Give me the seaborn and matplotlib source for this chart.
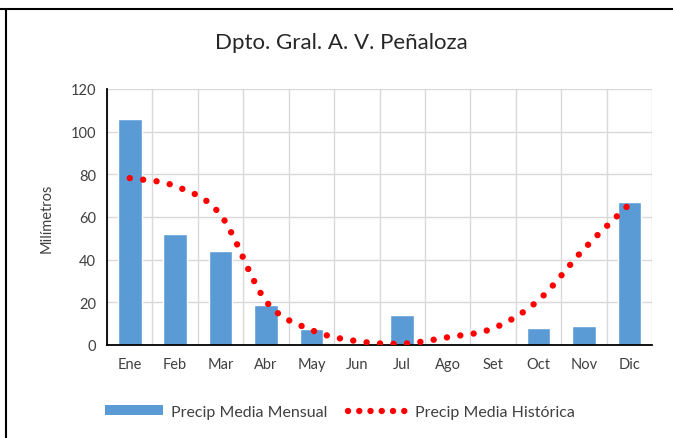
import matplotlib
matplotlib.use("Agg")
import matplotlib.pyplot as plt
import numpy as np
import pandas as pd
import seaborn as sns
from matplotlib.path import Path
from matplotlib.patches import PathPatch, Patch
from matplotlib.lines import Line2D

# Data
months = ["Ene", "Feb", "Mar", "Abr", "May", "Jun",
          "Jul", "Ago", "Set", "Oct", "Nov", "Dic"]
precip_mensual = [106, 52, 44.2, 18.7, 7.5, 0, 14.2, 0, 0, 7.8, 8.8, 67]
precip_historica = [78.2, 74.5, 61, 20.5, 7, 1.8, 0.6, 3.6, 7.8, 21, 45, 66]

label_mensual = "Precip Media Mensual"
label_historica = "Precip Media Histórica"

sns.set_theme(style="white")
plt.rcParams["font.family"] = ["Lato", "DejaVu Sans"]

df = pd.DataFrame({"mes": months, "mm": precip_mensual})

fig = plt.figure(figsize=(6.73, 4.39), dpi=100)
ax = fig.add_axes([0.159, 0.212, 0.81, 0.583])

bar_color = "#5b9bd5"
sns.barplot(data=df, x="mes", y="mm", color=bar_color, width=0.52,
            saturation=1, ax=ax, zorder=2)

# smooth (Excel-like) curve through the historic means
x = np.arange(len(months), dtype=float)
y = np.array(precip_historica, dtype=float)
verts = [(x[0], y[0])]
codes = [Path.MOVETO]
for i in range(len(x) - 1):
    p0 = (x[max(i - 1, 0)], y[max(i - 1, 0)])
    p1 = (x[i], y[i])
    p2 = (x[i + 1], y[i + 1])
    p3 = (x[min(i + 2, len(x) - 1)], y[min(i + 2, len(x) - 1)])
    c1 = (p1[0] + (p2[0] - p0[0]) / 6, p1[1] + (p2[1] - p0[1]) / 6)
    c2 = (p2[0] - (p3[0] - p1[0]) / 6, p2[1] - (p3[1] - p1[1]) / 6)
    verts += [c1, c2, p2]
    codes += [Path.CURVE4] * 3
dots = (0, (0.01, 2.1))
curve = PathPatch(Path(verts, codes), fill=False, edgecolor="#ff0000",
                  linewidth=4.6, linestyle=dots, capstyle="round", zorder=3)
ax.add_patch(curve)

ax.set_ylim(0, 120)
ax.set_xlim(-0.5, 11.5)
ax.set_yticks(range(0, 121, 20))
ax.set_xticks(np.arange(-0.5, 12, 1), minor=True)
ax.grid(axis="y", color="#d9d9d9", linewidth=1, zorder=0)
ax.grid(axis="x", which="minor", color="#d9d9d9", linewidth=1, zorder=0)
ax.set_axisbelow(True)
for side in ["top", "right"]:
    ax.spines[side].set_visible(False)
ax.spines["left"].set_color("black")
ax.spines["bottom"].set_color("black")
ax.spines["left"].set_linewidth(1.3)
ax.spines["bottom"].set_linewidth(1.3)
ax.tick_params(axis="both", which="both", length=0, labelsize=10.5,
               labelcolor="#404040")
ax.tick_params(axis="x", pad=9)
ax.tick_params(axis="y", pad=8)
ax.set_xlabel("")
ax.set_ylabel("Milímetros", fontsize=10.5, color="#404040", labelpad=12)

fig.suptitle("Dpto. Gral. A. V. Peñaloza", x=0.507, y=0.925,
             fontsize=16, color="#262626")

handles = [Patch(facecolor=bar_color, edgecolor="none"),
           Line2D([0], [0], color="#ff0000", linewidth=4.6,
                  linestyle=(0, (0.01, 1.75)), dash_capstyle="round")]
fig.legend(handles, [label_mensual, label_historica], loc="center",
           bbox_to_anchor=(0.505, 0.06), ncol=2, frameon=False,
           fontsize=11.5, handlelength=3.6, handleheight=0.5,
           columnspacing=1.3, handletextpad=0.55, labelcolor="#404040")

# chart border (top and left visible in the crop)
fig.add_artist(Line2D([0, 1], [1 - 10 / 439] * 2, color="black", linewidth=1.5,
                      transform=fig.transFigure))
fig.add_artist(Line2D([6 / 673] * 2, [0, 1 - 10 / 439], color="black",
                      linewidth=1.5, transform=fig.transFigure))

fig.savefig("out.png", dpi=100)
